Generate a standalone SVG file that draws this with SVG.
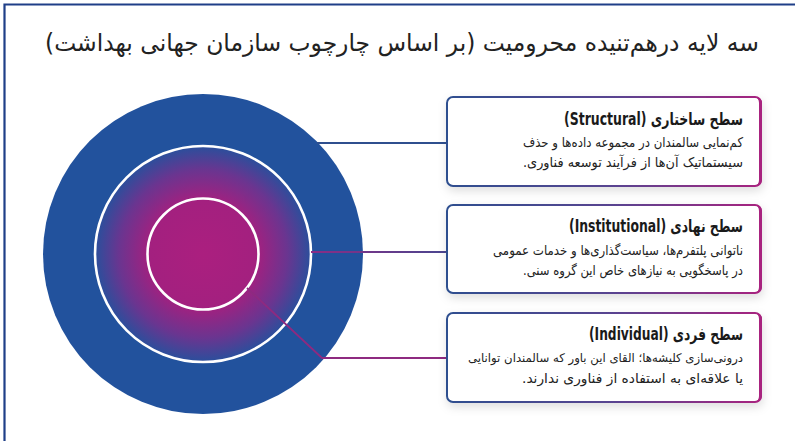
<svg xmlns="http://www.w3.org/2000/svg" width="795" height="441" viewBox="0 0 795 441">
  <defs>
    <radialGradient id="coreGrad" cx="203" cy="254" r="108" gradientUnits="userSpaceOnUse">
      <stop offset="0" stop-color="#ab1f7f"/>
      <stop offset="0.5" stop-color="#a3207f"/>
      <stop offset="0.78" stop-color="#6a3590"/>
      <stop offset="1" stop-color="#2a4f9c"/>
    </radialGradient>
    <linearGradient id="boxStroke" x1="0" y1="0" x2="1" y2="0">
      <stop offset="0" stop-color="#2e4f8f"/>
      <stop offset="0.55" stop-color="#5b4390"/>
      <stop offset="1" stop-color="#a8237f"/>
    </linearGradient>
    <linearGradient id="midLine" x1="311" y1="0" x2="448" y2="0" gradientUnits="userSpaceOnUse">
      <stop offset="0" stop-color="#8a2d85"/>
      <stop offset="1" stop-color="#4a4690"/>
    </linearGradient>
    <filter id="shadow" x="-10%" y="-20%" width="125%" height="150%">
      <feDropShadow dx="1" dy="4" stdDeviation="5" flood-color="#000" flood-opacity="0.13"/>
    </filter>
  </defs>
  <style>
    .frame { fill: none; stroke: #1f3f88; stroke-width: 2.2; }
    .title { font-family: "DejaVu Sans", "Noto Sans", sans-serif; font-size: 24px; fill: #222; }
    .box { fill: #fff; stroke: url(#boxStroke); stroke-width: 2; }
    .edge { fill: #a8237f; }
    .head { font-family: "DejaVu Sans", "Noto Sans", sans-serif; font-size: 17px; font-weight: bold; fill: #1a1a1a; }
    .body { font-family: "DejaVu Sans", "Noto Sans", sans-serif; font-size: 13.5px; fill: #222; }
    .body.long { font-size: 12px; }
    .ring { fill: none; stroke: #fff; stroke-width: 2.6; }
    .conn { fill: none; stroke-width: 1.8; }
  </style>

  <rect width="795" height="441" fill="#fff"/>
  <path class="frame" d="M4.5,441 V4.5 H795"/>

  <text class="title" x="759" y="51" direction="rtl" text-anchor="start" textLength="714" lengthAdjust="spacingAndGlyphs">سه لایه درهم‌تنیده محرومیت (بر اساس چارچوب سازمان جهانی بهداشت)</text>

  <!-- concentric layers -->
  <g id="layers">
    <circle cx="203" cy="254" r="160" fill="#22529d"/>
    <circle cx="203" cy="254" r="108" fill="url(#coreGrad)"/>
    <circle class="ring" cx="203" cy="254" r="108"/>
    <circle class="ring" cx="203" cy="254" r="55.5"/>
  </g>

  <!-- leader lines from each layer to its card -->
  <g id="connectors">
    <path class="conn" stroke="#2f4f8e" d="M317,143 H448"/>
    <path class="conn" stroke="url(#midLine)" d="M311,252 H448"/>
    <path class="conn" stroke="#8e2a80" d="M247,288 L322,358 H448"/>
  </g>

  <g id="structural">
    <rect class="box" x="447" y="97" width="314" height="89" rx="6" filter="url(#shadow)"/>
    <path class="edge" d="M755,97 h0.5 a6,6 0 0 1 6.5,6 v77 a6,6 0 0 1 -6.5,6 h-0.5 a4,6 0 0 0 4,-6 v-77 a4,6 0 0 0 -4,-6 z"/>
    <text class="head" x="743" y="125" direction="rtl" text-anchor="start" textLength="179" lengthAdjust="spacingAndGlyphs">سطح ساختاری (Structural)</text>
    <text class="body" x="743" y="147" direction="rtl" text-anchor="start" textLength="220" lengthAdjust="spacingAndGlyphs">کم‌نمایی سالمندان در مجموعه داده‌ها و حذف</text>
    <text class="body" x="743" y="167" direction="rtl" text-anchor="start" textLength="220" lengthAdjust="spacingAndGlyphs">سیستماتیک آن‌ها از فرآیند توسعه فناوری.</text>
  </g>

  <g id="institutional">
    <rect class="box" x="447" y="205" width="314" height="88" rx="6" filter="url(#shadow)"/>
    <path class="edge" d="M755,205 h0.5 a6,6 0 0 1 6.5,6 v76 a6,6 0 0 1 -6.5,6 h-0.5 a4,6 0 0 0 4,-6 v-76 a4,6 0 0 0 -4,-6 z"/>
    <text class="head" x="743" y="232" direction="rtl" text-anchor="start" textLength="174" lengthAdjust="spacingAndGlyphs">سطح نهادی (Institutional)</text>
    <text class="body" x="743" y="255" direction="rtl" text-anchor="start" textLength="250" lengthAdjust="spacingAndGlyphs">ناتوانی پلتفرم‌ها،  سیاست‌گذاری‌ها و خدمات عمومی</text>
    <text class="body" x="743" y="275" direction="rtl" text-anchor="start" textLength="220" lengthAdjust="spacingAndGlyphs">در پاسخگویی به نیازهای خاص این گروه سنی.</text>
  </g>

  <g id="individual">
    <rect class="box" x="447" y="313" width="314" height="89" rx="6" filter="url(#shadow)"/>
    <path class="edge" d="M755,313 h0.5 a6,6 0 0 1 6.5,6 v77 a6,6 0 0 1 -6.5,6 h-0.5 a4,6 0 0 0 4,-6 v-77 a4,6 0 0 0 -4,-6 z"/>
    <text class="head" x="743" y="340" direction="rtl" text-anchor="start" textLength="154" lengthAdjust="spacingAndGlyphs">سطح فردی (Individual)</text>
    <text class="body long" x="743" y="362" direction="rtl" text-anchor="start" textLength="275" lengthAdjust="spacingAndGlyphs">درونی‌سازی کلیشه‌ها؛ القای این باور که سالمندان توانایی</text>
    <text class="body" x="743" y="383" direction="rtl" text-anchor="start" textLength="221" lengthAdjust="spacingAndGlyphs">یا علاقه‌ای به استفاده از فناوری ندارند.</text>
  </g>
</svg>
